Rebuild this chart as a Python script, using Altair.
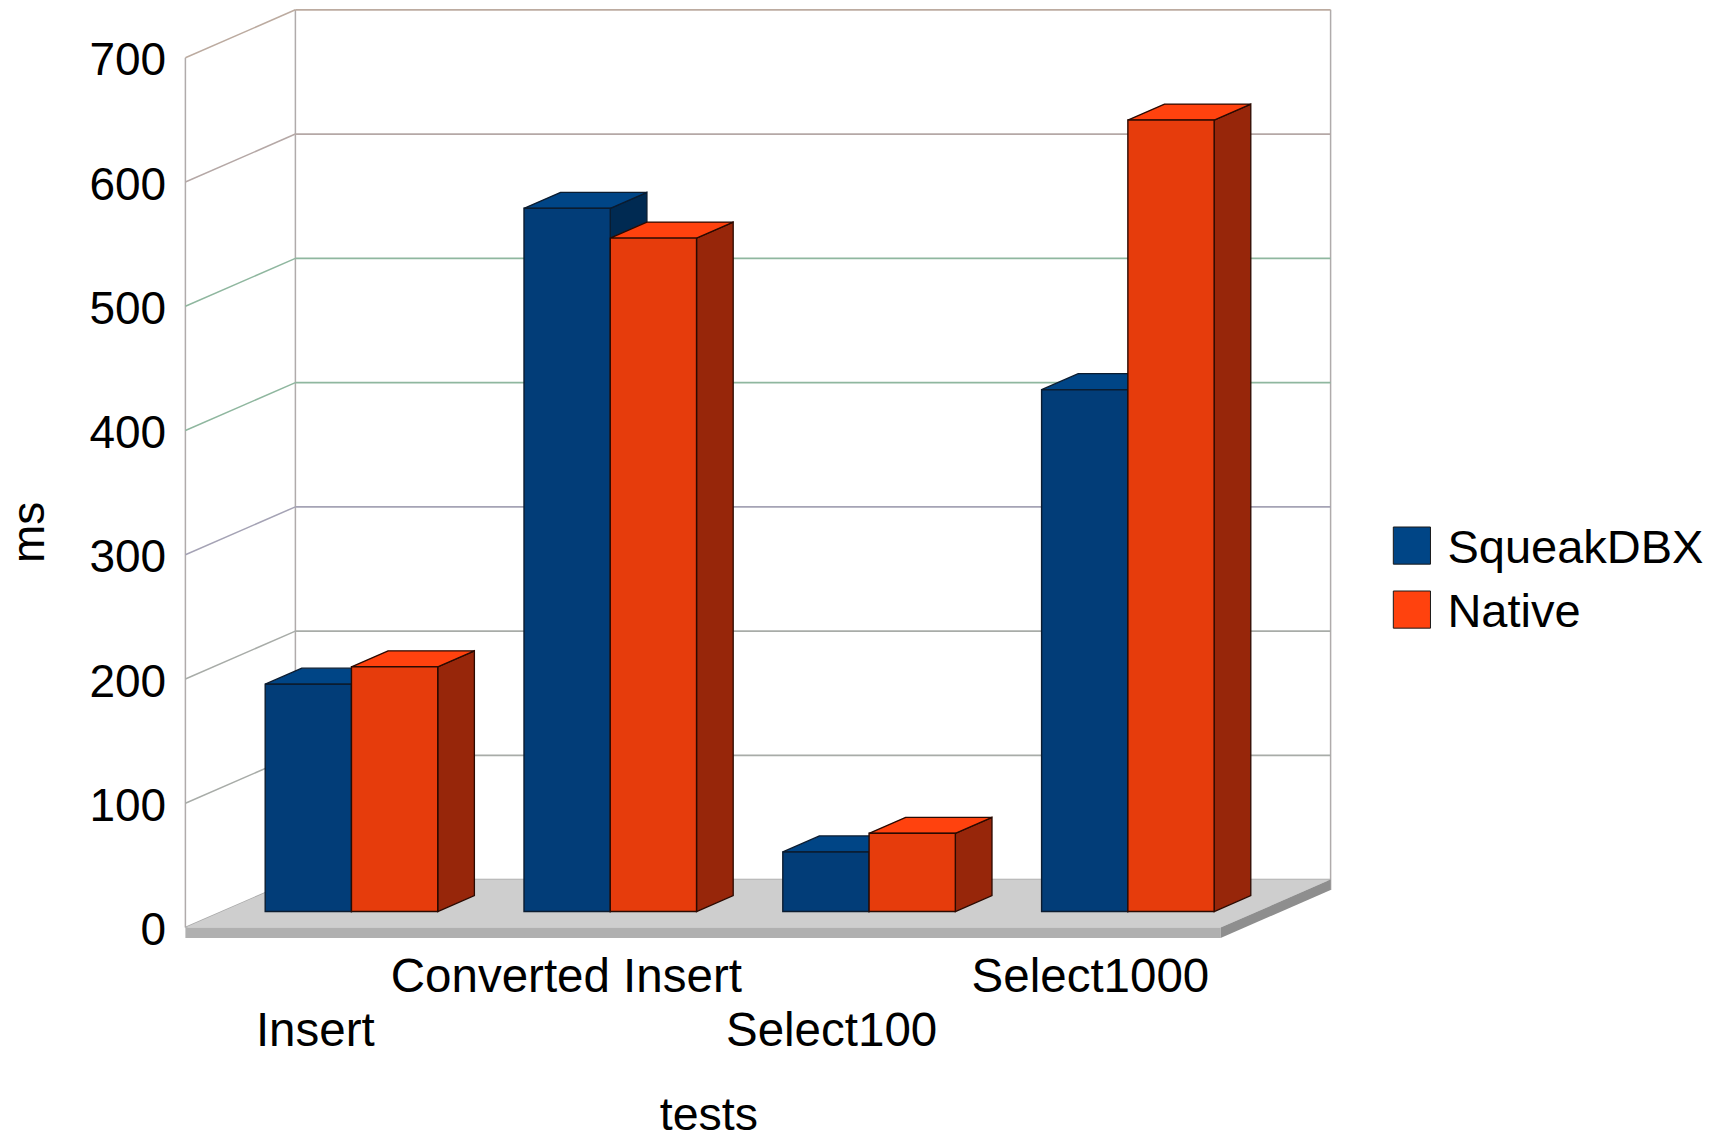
import json
import altair as alt
import pandas as pd

categories = ["Insert", "Converted Insert", "Select100", "Select1000"]
series_names = ["SqueakDBX", "Native"]
squeakdbx = [183, 566, 48, 420]
native = [197, 542, 63, 637]
y_ticks = [0, 100, 200, 300, 400, 500, 600, 700]
x_label_centres = [0.5, 1.47, 2.495, 3.495]
wall_colors = ["#a9a9a9", "#a8aca8", "#a8aca8", "#a5a3b5", "#8fb79f", "#8fb79f", "#b5a8a6", "#bcaba0"]

FONT = "Liberation Sans"
DX, DY = 0.425, 38.6          # how far one full unit of depth shifts x (categories) and y (ms)
SLAB = 8.4
N = len(categories)
X_DOM = [0, N + DX]
Y_DOM = [-SLAB, y_ticks[-1] + DY]
BAR = 1 / 3

cat_json = json.dumps(categories)
x_label_expr = (f"(floor(datum.value) % 2 == 1) ? [{cat_json}[floor(datum.value)]] "
                f": ['', {cat_json}[floor(datum.value)]]")
X_AXIS = alt.Axis(values=x_label_centres, labelExpr=x_label_expr, labelOverlap=False,
                  grid=False, ticks=False, domain=False, labelFont=FONT, labelFontSize=47.5,
                  labelColor="#000000", labelPadding=15, labelLineHeight=54.6, labelBaseline="top",
                  labelLimit=600,
                  title="tests", titleFont=FONT, titleFontSize=46.5, titleFontWeight="normal",
                  titleColor="#000000", titleX=523, titleY=177, titleBaseline="middle",
                  titleAnchor="middle")
Y_AXIS = alt.Axis(values=y_ticks, grid=False, ticks=False, domain=False, labelFont=FONT,
                  labelFontSize=46, labelColor="#000000", labelPadding=19.7, format="d",
                  labelOverlap=False, labelFlush=False, labelOffset=3,
                  title="ms", titleFont=FONT, titleFontSize=46, titleFontWeight="normal",
                  titleColor="#000000", titleX=-156, titleY=522, titleBaseline="middle",
                  titleAngle=-90, titleAnchor="middle")


def X(f="x", **kw):
    return alt.X(f"{f}:Q", scale=alt.Scale(domain=X_DOM, nice=False, zero=False), axis=X_AXIS, **kw)


def Y(f="y", **kw):
    return alt.Y(f"{f}:Q", scale=alt.Scale(domain=Y_DOM, nice=False, zero=False), axis=Y_AXIS, **kw)


# ---- floor slab ----
floor_top = pd.DataFrame([
    {"y": 0, "x": 0, "x2": N},
    {"y": DY, "x": DX, "x2": N + DX},
])
floor_front = pd.DataFrame([{"x": 0, "x2": N, "y": -SLAB, "y2": 0}])
floor_side = pd.DataFrame([
    {"x": N, "y": -SLAB, "y2": 0},
    {"x": N + DX, "y": DY - SLAB, "y2": DY},
])

# ---- walls ----
back_rows = pd.DataFrame([{"y": v + DY, "x": DX, "x2": N + DX, "c": c} for v, c in zip(y_ticks, wall_colors)])
side_rows = []
for v, c in zip(y_ticks, wall_colors):
    side_rows += [{"v": v, "x": 0, "y": v, "c": c}, {"v": v, "x": DX, "y": v + DY, "c": c}]
side_rows = pd.DataFrame(side_rows)
verticals = pd.DataFrame([
    {"x": 0, "y": 0, "y2": y_ticks[-1]},
    {"x": DX, "y": DY, "y2": y_ticks[-1] + DY},
    {"x": N + DX, "y": DY - SLAB, "y2": y_ticks[-1] + DY},
])

wall_layers = [
    alt.Chart(verticals).mark_rule(color="#b0abab", strokeWidth=1.5).encode(x=X(), y=Y(), y2="y2:Q"),
    alt.Chart(side_rows).mark_line(strokeWidth=1.5).encode(
        x=X(), y=Y(), detail="v:N", stroke=alt.Stroke("c:N", scale=None)),
    alt.Chart(back_rows).mark_rule(strokeWidth=1.8).encode(
        x=X(), x2="x2:Q", y=Y(), stroke=alt.Stroke("c:N", scale=None)),
]

floor_layers = [
    alt.Chart(floor_top).mark_area(orient="horizontal", color="#cecece").encode(x=X(), x2="x2:Q", y=Y()),
    alt.Chart(floor_front).mark_rect(color="#b0b0b0").encode(x=X(), x2="x2:Q", y=Y(), y2="y2:Q"),
    alt.Chart(floor_side).mark_area(orient="vertical", color="#8e8e8e").encode(x=X(), y=Y(), y2="y2:Q"),
]


# ---- 3-D bars: front face at 1/3 of the depth, back face at 2/3 ----
def bar_layers(name, values, slot, front, side, dark_edge):
    fr = []
    side_pts, top_pts = [], []
    d0, d1 = 1 / 3, 2 / 3
    for i, (cat, v) in enumerate(zip(categories, values)):
        left = i + 1 / 6 + slot * BAR
        right = left + BAR
        fr.append({"x": left + DX * d0, "x2": right + DX * d0, "y": DY * d0, "y2": v + DY * d0})
        side_pts += [
            {"bar": cat, "x": right + DX * d0, "y": DY * d0, "y2": v + DY * d0},
            {"bar": cat, "x": right + DX * d1, "y": DY * d1, "y2": v + DY * d1},
        ]
        top_pts += [
            {"bar": cat, "series": name, "y": v + DY * d0, "x": left + DX * d0, "x2": right + DX * d0},
            {"bar": cat, "series": name, "y": v + DY * d1, "x": left + DX * d1, "x2": right + DX * d1},
        ]
    color = alt.Color("series:N", scale=alt.Scale(domain=series_names, range=["#004586", "#ff420e"]),
                      sort=series_names,
                      legend=alt.Legend(
                          title=None, orient="none", legendX=1203, legendY=516,
                          symbolType="M-1,-1.2H1V0.8H-1Z",
                          symbolSize=1380, symbolStrokeColor="#1a1a1a", symbolStrokeWidth=1,
                          symbolOpacity=1, labelFont=FONT, labelFontSize=47, labelColor="#000000",
                          labelOffset=12, rowPadding=16, labelLimit=400))
    return [
        alt.Chart(pd.DataFrame(side_pts)).mark_area(orient="vertical", fill=side, stroke=dark_edge, strokeWidth=1.3)
        .encode(x=X(), y=Y(), y2="y2:Q", detail="bar:N"),
        alt.Chart(pd.DataFrame(top_pts)).mark_area(orient="horizontal", stroke=dark_edge, strokeWidth=1.3, opacity=1)
        .encode(x=X(), x2="x2:Q", y=Y(), detail="bar:N", color=color),
        alt.Chart(pd.DataFrame(fr)).mark_rect(fill=front, stroke=dark_edge, strokeWidth=1.4)
        .encode(x=X(), x2="x2:Q", y=Y(), y2="y2:Q"),
    ]


bars = bar_layers(series_names[0], squeakdbx, 0, "#023d78", "#002a52", "#0b1c30") + \
       bar_layers(series_names[1], native, 1, "#e63c0c", "#97260a", "#2a0a02")

chart = alt.layer(*wall_layers, *floor_layers, *bars).properties(
    width=1145.2,
    height=928.2,
    padding={"left": 177.4, "top": 1.8, "right": 380.4, "bottom": 199},
    autosize=alt.AutoSizeParams(type="none"),
    background="#ffffff",
).configure_view(stroke=None)

chart.save("out.html", embed_options={"renderer": "svg", "actions": False})
